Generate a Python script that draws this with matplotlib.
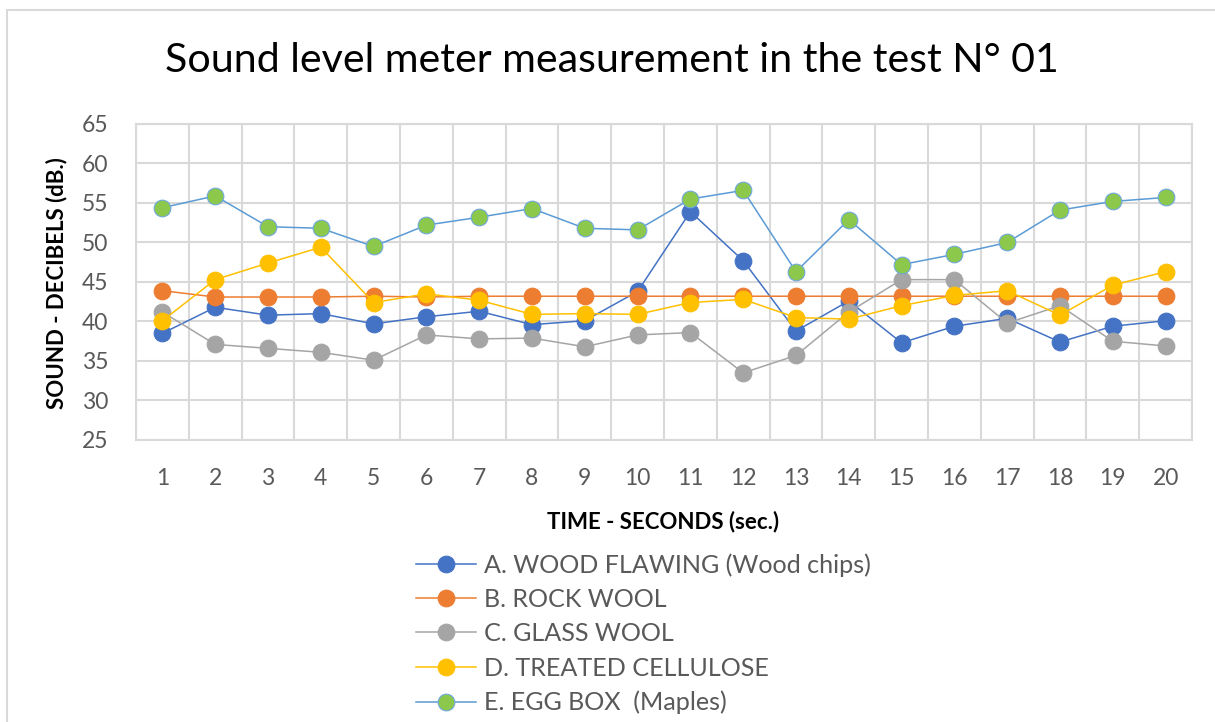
import matplotlib
matplotlib.use("Agg")
import matplotlib.pyplot as plt
from matplotlib.patches import Rectangle

# --- data ---
seconds = list(range(1, 21))

wood_flawing = [38.5, 41.8, 40.8, 41.0, 39.7, 40.6, 41.3, 39.6, 40.1, 43.8,
                53.9, 47.7, 38.8, 42.6, 37.3, 39.4, 40.4, 37.4, 39.4, 40.1]
rock_wool = [43.9, 43.1, 43.1, 43.1, 43.2, 43.1, 43.2, 43.2, 43.2, 43.2,
             43.2, 43.2, 43.2, 43.2, 43.2, 43.2, 43.2, 43.2, 43.2, 43.2]
glass_wool = [41.2, 37.1, 36.6, 36.1, 35.1, 38.3, 37.8, 37.9, 36.8, 38.3,
              38.6, 33.5, 35.7, 41.2, 45.3, 45.3, 39.8, 42.0, 37.5, 36.9]
treated_cellulose = [40.1, 45.3, 47.4, 49.4, 42.4, 43.5, 42.7, 40.9, 41.0, 40.9,
                     42.4, 42.8, 40.5, 40.3, 42.0, 43.3, 43.9, 40.8, 44.6, 46.3]
egg_box = [54.4, 55.9, 52.0, 51.8, 49.5, 52.2, 53.2, 54.3, 51.8, 51.6,
           55.5, 56.6, 46.3, 52.9, 47.2, 48.5, 50.0, 54.1, 55.2, 55.7]

series_names = ["A. WOOD FLAWING (Wood chips)", "B. ROCK WOOL", "C. GLASS WOOL",
                "D. TREATED CELLULOSE", "E. EGG BOX  (Maples)"]

plt.rcParams['font.family'] = ['Lato', 'DejaVu Sans']

fig = plt.figure(figsize=(12.15, 7.22), dpi=100)
# light outer chart border (right and bottom edges are cut off in the reference)
fig.patches.append(Rectangle((7 / 1215, -0.01), 1.1, 1 - 10 / 722 + 0.01,
                             transform=fig.transFigure, fill=False,
                             edgecolor='#D9D9D9', linewidth=1.5))

ax = fig.add_axes([136 / 1215, 1 - 440 / 722, 1056 / 1215, 316 / 722])

# (values, line colour, marker fill, marker edge)
styles = [
    (wood_flawing, '#4472C4', '#4472C4', '#4472C4'),
    (rock_wool, '#ED7D31', '#ED7D31', '#ED7D31'),
    (glass_wool, '#A5A5A5', '#A5A5A5', '#A5A5A5'),
    (treated_cellulose, '#FFC000', '#FFC000', '#FFC000'),
    (egg_box, '#5B9BD5', '#8CC84B', '#6FA8DC'),
]
for (vals, lc, mfc, mec), name in zip(styles, series_names):
    ax.plot(seconds, vals, color=lc, linewidth=1.1, marker='o', markersize=12,
            markerfacecolor=mfc, markeredgecolor=mec, markeredgewidth=0.8,
            label=name, zorder=3)

ax.set_xlim(0.5, 20.5)
ax.set_ylim(25, 65)
ax.set_yticks(range(25, 66, 5))
ax.set_xticks(seconds)
ax.set_xticks([s + 0.5 for s in range(0, 21)], minor=True)
ax.grid(True, which='minor', axis='x', color='#D9D9D9', linewidth=1.5)
ax.grid(True, which='major', axis='y', color='#D9D9D9', linewidth=1.5)
ax.tick_params(axis='both', which='both', length=0, labelsize=16.5, labelcolor='#595959')
ax.tick_params(axis='y', pad=20)
ax.tick_params(axis='x', pad=20)
for sp in ax.spines.values():
    sp.set_color('#D9D9D9')
    sp.set_linewidth(1.5)
ax.set_axisbelow(True)

fig.text(612 / 1215, 1 - 60 / 722, "Sound level meter measurement in the test N° 01",
         ha='center', va='center', fontsize=29.6, color='black')
fig.text(57 / 1215, 1 - 283 / 722, "SOUND - DECIBELS (dB.)", rotation=90,
         ha='center', va='center', fontsize=16, fontweight='bold', color='black')
fig.text(663 / 1215, 1 - 522 / 722, "TIME - SECONDS (sec.)",
         ha='center', va='center', fontsize=16, fontweight='bold', color='black')

fig.legend(loc='upper left', bbox_to_anchor=(416 / 1215, 1 - 553 / 722),
           frameon=False, fontsize=18.1, labelcolor='#595959', handlelength=2.4,
           handletextpad=0.32, labelspacing=0.45, borderpad=0, borderaxespad=0)

fig.savefig("out.png", dpi=100)
